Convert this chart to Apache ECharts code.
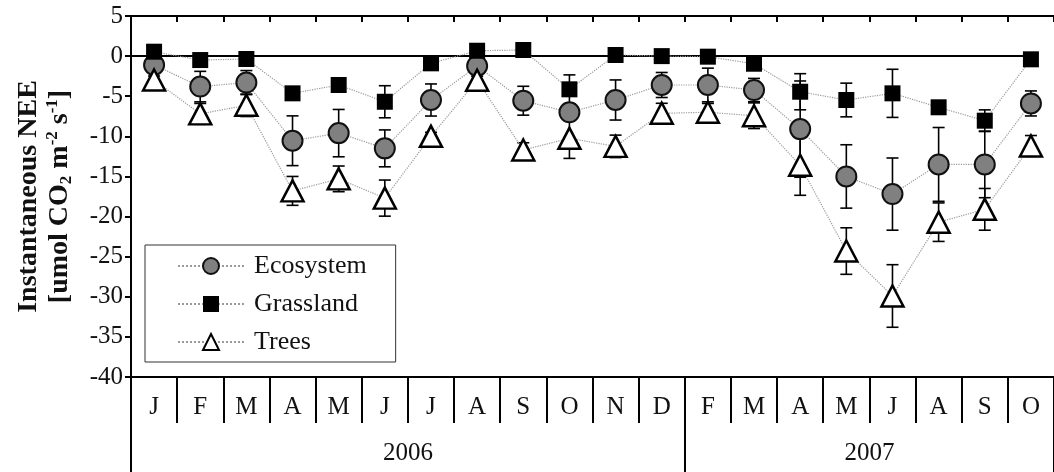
<!DOCTYPE html>
<html><head><meta charset="utf-8">
<script src="https://cdn.jsdelivr.net/npm/echarts@6/dist/echarts.min.js"></script>
<style>html,body{margin:0;padding:0;background:#fff}#c{width:1054px;height:472px}</style>
</head><body><div id="c"></div>
<script>
// ---- data ----
const months = ['J','F','M','A','M','J','J','A','S','O','N','D','F','M','A','M','J','A','S','O'];
const yearLabels = ['2006','2007'];
const yearSpans = [12, 8];
const seriesNames = ['Ecosystem','Grassland','Trees'];
const ecosystem    = [-1.1,-3.8,-3.3,-10.55,-9.6,-11.5,-5.47,-1.23,-5.56,-7.0,-5.47,-3.6,-3.6,-4.23,-9.1,-15.0,-17.2,-13.5,-13.5,-5.9];
const ecosystemErr = [0.5,1.9,1.5,3.1,2.95,2.3,2.0,0.5,1.8,1.0,2.5,1.56,2.1,1.45,6.0,3.95,4.5,4.6,4.15,1.56];
const grassland    = [0.55,-0.49,-0.36,-4.64,-3.6,-5.69,-0.9,0.67,0.76,-4.14,0.14,0.0,-0.07,-0.95,-4.44,-5.47,-4.64,-6.38,-8.05,-0.4];
const grasslandErr = [0,0,0,0,0,2.0,0,0,0,1.8,0,0,0,0,2.25,2.1,3.0,0.5,1.35,0];
const trees        = [-2.98,-7.2,-6.13,-16.8,-15.3,-17.7,-10.0,-3.0,-11.7,-10.25,-11.25,-7.13,-7.0,-7.43,-13.6,-24.3,-29.9,-20.7,-19.1,-11.2];
const treesErr     = [0.5,1.3,1.4,1.8,1.6,2.25,0.5,0.5,0.9,2.5,1.4,1.25,1.1,1.6,3.75,2.9,3.9,2.4,2.6,1.3];
const yMin = -40, yMax = 5, yStep = 5;

// ---- chart ----
const FONT = 'Liberation Serif';
const yearBounds = [0]; yearSpans.forEach(s => yearBounds.push(yearBounds[yearBounds.length-1] + s));
const yearMids = yearSpans.map((s,i) => yearBounds[i] + s/2);

function errRender(params, api){
  const i = api.value(0), v = api.value(1), e = api.value(2);
  if (!e) return null;
  const top = api.coord([i, v + e]), bot = api.coord([i, v - e]);
  const w = 6, style = {stroke:'#000', lineWidth:1.6};
  return {type:'group', children:[
    {type:'line', shape:{x1:top[0], y1:top[1], x2:bot[0], y2:bot[1]}, style},
    {type:'line', shape:{x1:top[0]-w, y1:top[1], x2:top[0]+w, y2:top[1]}, style},
    {type:'line', shape:{x1:bot[0]-w, y1:bot[1], x2:bot[0]+w, y2:bot[1]}, style}
  ]};
}
function errSeries(vals, errs){
  return {type:'custom', xAxisIndex:0, yAxisIndex:0, z:1, silent:true,
    data: months.map((m,i)=>[i, vals[i], errs[i]]), renderItem: errRender};
}
const lineStyle = {color:'#9a9a9a', type:'dotted', width:1.2};

const chart = echarts.init(document.getElementById('c'), null, {renderer:'canvas'});
chart.setOption({
  animation:false,
  backgroundColor:'#fff',
  grid:{left:131, top:16, right:-3, bottom:95, containLabel:false},
  legend:{
    orient:'vertical', left:145, top:245,
    itemWidth:66, itemHeight:20, itemGap:12,
    padding:[8,29,7,32],
    borderColor:'#333', borderWidth:1, backgroundColor:'#fff',
    textStyle:{fontFamily:FONT, fontSize:26, color:'#111', lineHeight:26, padding:[0,0,0,5]},
    data: seriesNames
  },
  xAxis:[
    {type:'category', position:'bottom', data:months, boundaryGap:true,
     axisLine:{onZero:false, lineStyle:{color:'#000', width:2}},
     axisTick:{show:true, interval:0, length:46, lineStyle:{color:'#000', width:2}},
     axisLabel:{interval:0, fontFamily:FONT, fontSize:25, color:'#111', margin:18},
     splitLine:{show:false}},
    {type:'category', position:'top', data:months, boundaryGap:true,
     axisLine:{onZero:false, lineStyle:{color:'#000', width:2}},
     axisTick:{show:true, inside:true, interval:0, length:6, lineStyle:{color:'#000', width:2}},
     axisLabel:{show:false}, splitLine:{show:false}},
    {type:'value', position:'bottom', min:0, max:months.length,
     axisLine:{show:false, onZero:false},
     axisTick:{show:true, customValues:yearBounds, length:95, lineStyle:{color:'#000', width:2}},
     axisLabel:{customValues:yearMids, fontFamily:FONT, fontSize:25, color:'#111', margin:64,
       formatter:(v)=>{ const k = yearMids.indexOf(v); return k>=0 ? yearLabels[k] : ''; }},
     splitLine:{show:false}}
  ],
  yAxis:{
    type:'value', min:yMin, max:yMax, interval:yStep,
    axisLine:{show:true, onZero:false, lineStyle:{color:'#000', width:2}},
    axisTick:{show:true, length:6, lineStyle:{color:'#000', width:2}},
    axisLabel:{fontFamily:FONT, fontSize:25, color:'#111', margin:8},
    splitLine:{show:false},
    name:'{b|Instantaneous NEE}\n{b|[umol CO}{sb|2}{b| m}{sp|-2}{b| s}{sp|-1}{b|]}',
    nameLocation:'middle', nameRotate:90, nameGap:56,
    nameTextStyle:{
      rich:{
        b:{fontFamily:FONT, fontSize:28, fontWeight:'bold', color:'#111', lineHeight:31},
        sb:{fontFamily:FONT, fontSize:17, fontWeight:'bold', color:'#111', lineHeight:31, verticalAlign:'bottom'},
        sp:{fontFamily:FONT, fontSize:17, fontWeight:'bold', color:'#111', lineHeight:31, verticalAlign:'top'}
      }
    }
  },
  series:[
    {type:'custom', xAxisIndex:0, yAxisIndex:0, z:1, silent:true,
     data:[[months.length-1, 0]],
     renderItem:(params, api)=>{
       const end = api.coord([api.value(0), api.value(1)]);
       return {type:'line', shape:{x1:params.coordSys.x, y1:end[1], x2:end[0], y2:end[1]},
               style:{stroke:'#000', lineWidth:2}};
     }},
    errSeries(ecosystem, ecosystemErr),
    errSeries(grassland, grasslandErr),
    errSeries(trees, treesErr),
    {name:seriesNames[0], type:'line', data:ecosystem, xAxisIndex:0, yAxisIndex:0, z:3,
     symbol:'circle', symbolSize:20, lineStyle,
     itemStyle:{color:'#808080', borderColor:'#111', borderWidth:2}},
    {name:seriesNames[1], type:'line', data:grassland, xAxisIndex:0, yAxisIndex:0, z:3,
     symbol:'rect', symbolSize:16, lineStyle,
     itemStyle:{color:'#000', borderColor:'#000', borderWidth:0}},
    {name:seriesNames[2], type:'line', data:trees, xAxisIndex:0, yAxisIndex:0, z:3,
     symbol:'triangle', symbolSize:[22,21], lineStyle,
     itemStyle:{color:'#fff', borderColor:'#000', borderWidth:2.5}}
  ]
});
</script></body></html>
